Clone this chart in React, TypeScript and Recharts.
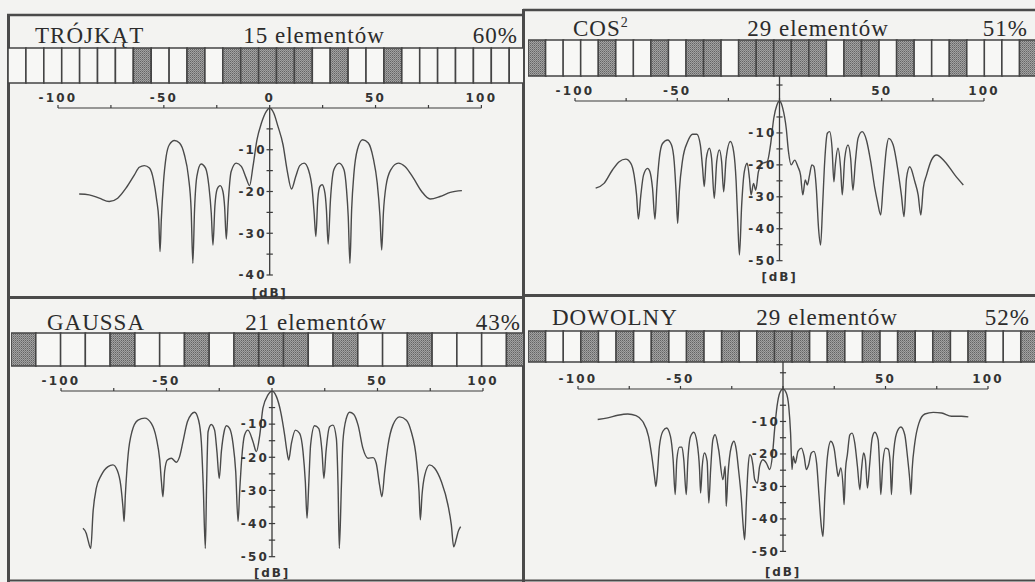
import React from 'react';
import { LineChart, Line, XAxis, YAxis, ReferenceLine, ReferenceDot, BarChart, Bar, Cell } from 'recharts';

// ---------- data: [angle (deg), level (dB)] ----------
const trojkatPattern: [number, number][] = [
  [-90, -20.6], [-85.3, -20.8], [-80.5, -21.6], [-75.8, -22.4], [-71.8, -21.6], [-67.9, -19.2], [-63.9, -16], [-61.6, -14.2],
  [-59.2, -13.8], [-56.8, -14.4], [-54.9, -17.2], [-53.4, -22], [-52.4, -26.8], [-51.8, -34.4], [-51.2, -26.8], [-50.2, -18],
  [-48.9, -11.6], [-47.4, -8.8], [-45, -7.8], [-42.6, -8.4], [-40.3, -11.2], [-38.4, -16.4], [-37.1, -24.4], [-36.3, -37.2],
  [-35.5, -24.4], [-34.4, -16.4], [-32.4, -13.4], [-30.3, -14.4], [-28.7, -18.8], [-27.6, -25.2], [-26.8, -32.8], [-25.9, -23.6],
  [-24.8, -19.4], [-23.4, -18.6], [-22.1, -20], [-21.3, -23.6], [-20.5, -31.4], [-19.6, -22.8], [-18.2, -15.2], [-15.8, -13.2],
  [-13.4, -14], [-11.1, -16.8], [-9.5, -18.6], [-7.9, -14], [-6, -7.6], [-3.9, -3.6], [-1.6, -0.8], [0, 0], [1.9, -1.2],
  [3.9, -4.4], [6.3, -8.8], [8.2, -14.8], [10.3, -19.4], [12.3, -16.4], [14.2, -13.8], [16.3, -13.2], [18.3, -14.8],
  [20.1, -19.6], [21, -25.2], [21.8, -30.8], [22.7, -22], [23.7, -18.8], [24.8, -18.4], [26.1, -20.4], [26.8, -24.4],
  [27.6, -32.6], [28.7, -22], [30.3, -14.8], [32.8, -13.2], [35.1, -14.8], [36.3, -19.6], [37.1, -26], [37.9, -37.2],
  [38.7, -24.4], [39.8, -15.6], [41.4, -10], [43.9, -7.6], [46.6, -8.4], [48.9, -12], [50.8, -18], [52.1, -26], [52.9, -34],
  [53.7, -25.2], [54.9, -18.8], [57.2, -14.8], [60.8, -13.2], [63.9, -14], [67.9, -16.8], [71.8, -20], [75.8, -21.8],
  [80.5, -21.2], [85.3, -20.2], [90.8, -19.8],
];

const cos2Pattern: [number, number][] = [
  [-89.9, -27.3], [-85.8, -25.8], [-81.7, -21.6], [-78.4, -19], [-75.2, -18.2], [-72.7, -19.5], [-71.1, -23.2], [-69.9, -29.4],
  [-69, -37], [-67.8, -29.4], [-66.5, -23.2], [-64.5, -21.1], [-63.4, -22.1], [-62.1, -27.3], [-60.9, -37], [-60, -27.3],
  [-58.8, -18], [-57.2, -13.3], [-54.7, -12.2], [-52.8, -13.8], [-51.5, -19], [-50.5, -29.4], [-49.8, -38.3], [-49, -28.4],
  [-47.4, -18.5], [-44.9, -12.7], [-42.5, -10.4], [-40.4, -10.4], [-38.7, -13.8], [-37.6, -21.1], [-36.8, -26.8], [-35.8, -18],
  [-34.3, -14.8], [-33.2, -18], [-31.9, -30.5], [-30.7, -19], [-29.4, -15.3], [-28.3, -19], [-27.3, -28.4], [-26.1, -18],
  [-24, -12.7], [-22.4, -15.9], [-21.2, -25.3], [-20.4, -37.8], [-19.6, -48.2], [-18.5, -32.6], [-17.2, -22.1], [-15.8, -19.5],
  [-14.7, -24.2], [-13.9, -29.4], [-12.7, -25.8], [-11.6, -27.9], [-10.3, -22.1], [-8.2, -19.5], [-6, -19], [-4.4, -13.8],
  [-2.8, -5.4], [-1.3, -1.3], [0, 0], [1.6, -2.3], [3.3, -8.6], [4.4, -15.9], [5.7, -20], [7.4, -18.5], [9, -20.6],
  [10.3, -23.2], [11.4, -29.4], [12.6, -24.7], [13.6, -26.3], [14.7, -23.2], [15.8, -20], [16.8, -20.5], [18, -27.3],
  [19.1, -39.9], [20.1, -45.1], [21.1, -32.6], [22.1, -19], [23.4, -10.1], [24.5, -9.6], [25.7, -14.8], [26.6, -25.3],
  [27.3, -20], [28.6, -14.8], [29.9, -21.1], [30.7, -29.4], [31.9, -18], [33.5, -13.8], [34.8, -18], [35.9, -27.9],
  [37.1, -19], [38.4, -11.7], [40.4, -9.6], [42.5, -12.2], [44.6, -19], [46.6, -27.3], [47.9, -31.5], [49.5, -35.7],
  [50.7, -26.3], [52.3, -14.8], [53.4, -11.7], [55.6, -13.8], [58, -22.1], [59.6, -29.4], [60.9, -36.2], [62.1, -24.2],
  [63.7, -20.6], [66.2, -25.3], [67.8, -29.4], [69.1, -35.7], [70.3, -27.3], [71.9, -23.2], [74.3, -18.5], [76.8, -16.9],
  [80.9, -19], [85.8, -23.2], [89.9, -26.3],
];

const gaussPattern: [number, number][] = [
  [-89.6, -41.4], [-88, -43], [-87.2, -45], [-85.9, -47.5], [-84.8, -36.4], [-83.3, -29.4], [-80.9, -25.4], [-77.7, -22.8],
  [-75.4, -22.3], [-73.3, -24], [-71.7, -28.4], [-70.6, -35.4], [-70.1, -39.4], [-69.5, -31.4], [-68.2, -19.3], [-66.4, -12.3],
  [-63.5, -8.8], [-60.3, -8.2], [-57.2, -9.8], [-54.8, -14.3], [-53.2, -20.8], [-52.4, -27.4], [-51.7, -31.9], [-50.9, -24.3],
  [-49.6, -20.8], [-47.7, -20.3], [-45.3, -21.5], [-43.8, -19.8], [-42.2, -15.3], [-40.1, -9.3], [-38.2, -7], [-36.7, -6.4],
  [-34.8, -8.8], [-33.5, -15.3], [-32.6, -28.4], [-31.6, -47.5], [-31, -28.4], [-30.3, -12.3], [-28.8, -10.1], [-27.2, -11.8],
  [-26.1, -18.3], [-25, -26.4], [-24, -18.3], [-22.7, -12.3], [-21.6, -10.5], [-20.1, -11.3], [-18.5, -15.8], [-17.2, -24.3],
  [-16.1, -39.4], [-15.3, -30], [-14.3, -20], [-13, -13.3], [-11.4, -11.8], [-9, -15.3], [-7.4, -18.3], [-5.8, -13.3],
  [-4.3, -5.2], [-1.9, -1.2], [0, 0], [2.1, -1.7], [4.1, -6.2], [6, -13.3], [7.1, -18.3], [7.9, -20.8], [9.2, -15.8],
  [11.1, -11.8], [13.1, -12.8], [14.7, -18.3], [15.8, -27.4], [16.6, -38.4], [17.4, -28.4], [18.3, -16.3], [20.2, -10.5],
  [22.1, -11.3], [23.7, -18.3], [24.6, -26.4], [25.6, -18.3], [27.3, -10.8], [28.9, -10.3], [30.5, -14.3], [31.3, -28.4],
  [31.9, -47.5], [32.9, -28.4], [33.6, -15.3], [35.2, -8.3], [36.8, -6.4], [38.7, -7], [40.8, -10.3], [43.1, -17.3],
  [45.5, -20.3], [47.9, -20.1], [49.4, -21.8], [51, -28.4], [52.1, -31.9], [53.4, -24.3], [55, -16.3], [57.3, -10.3],
  [60.5, -7.8], [63.7, -8.8], [66, -12.3], [68.4, -20.3], [69.7, -30.4], [70.3, -38.9], [71.1, -31.4], [72.4, -25.4],
  [74.7, -22.3], [77.1, -23.3], [80.3, -27.4], [83.4, -34.4], [85, -40.4], [86.1, -47], [87.4, -44.5], [88.2, -42.5],
  [89.4, -40.9],
];

const dowolnyPattern: [number, number][] = [
  [-90.4, -9.4], [-85.5, -8.9], [-80.6, -8.1], [-75.7, -7.7], [-71.7, -8.2], [-68.4, -10], [-65.6, -14.6], [-64, -20.7],
  [-62.7, -26.9], [-62, -30], [-61.4, -26.9], [-60.3, -17.7], [-58.6, -13], [-56.8, -12], [-54.9, -14.6], [-53.6, -21.8],
  [-52.6, -32.5], [-51.8, -21.8], [-50.5, -17.9], [-49.3, -17.9], [-48.4, -21.8], [-47.2, -32.5], [-46.4, -21.8], [-45.1, -14.6],
  [-43.5, -13.3], [-41.9, -16.6], [-40.7, -24.8], [-40.2, -32], [-39.4, -23.8], [-38.3, -19.7], [-37, -22.3], [-36.2, -35.1],
  [-35.3, -24.8], [-34.2, -15.6], [-33.1, -14.1], [-31.4, -18.7], [-29.3, -27.9], [-28.2, -23.8], [-27.7, -36.1], [-26.9, -26.9],
  [-25.2, -17.7], [-23.9, -16.1], [-22.8, -18.7], [-21.7, -24.8], [-20.4, -33.1], [-19.4, -42.3], [-18.7, -46.4], [-17.9, -35.1],
  [-17.1, -24.8], [-16.3, -20.2], [-15.5, -20.7], [-14.7, -23.3], [-13.8, -27.9], [-12.5, -29], [-11.4, -23.8], [-9.8, -21.8],
  [-8.1, -22.8], [-6.5, -24.8], [-5.2, -20.7], [-4.1, -12.5], [-2.9, -5.3], [-1.6, -1.2], [0, 0], [1.6, -1.2], [2.8, -5.3],
  [3.7, -13.6], [4.4, -24.8], [5, -20.7], [6, -22.8], [7.3, -19.2], [9, -18.2], [10.3, -20.7], [11.4, -24.8], [12.5, -23.3],
  [13.8, -19.7], [15.1, -19.2], [16.4, -22.8], [17.6, -33.1], [18.7, -42.3], [19.5, -45.4], [20.4, -33.1], [21.7, -20.7],
  [23.3, -16.1], [24.9, -18.2], [26.1, -23.8], [26.9, -26.9], [28.2, -24.3], [29.3, -30], [29.8, -35.6], [30.5, -24.8],
  [31.4, -20.2], [32.6, -14.1], [33.7, -13.6], [35, -16.6], [36.3, -23.8], [37.5, -31], [38.3, -24.8], [39.3, -19.7],
  [40.2, -21.8], [41.2, -30.5], [42.2, -23.8], [43.5, -15.1], [44.8, -13.3], [46.4, -15.6], [47.2, -24.8], [47.7, -32.5],
  [48.7, -22.8], [50, -18.2], [51.3, -18.5], [52.3, -22.8], [52.9, -32.5], [53.7, -21.8], [55.4, -13.6], [57.5, -11.7],
  [59.4, -14.1], [60.7, -20.7], [61.9, -28.4], [62.4, -32.5], [63, -24.8], [64.3, -16.6], [66.3, -10.5], [69.2, -7.7],
  [73.3, -7.2], [77.4, -7.4], [82.2, -8.4], [87.1, -8.4], [90.4, -8.6],
];

// array element strips (1 = shaded element)
const trojkatCells = [0, 0, 0, 0, 0, 0, 0, 1, 0, 0, 1, 0, 1, 1, 1, 1, 1, 0, 1, 0, 0, 1, 0, 0, 0, 0, 0, 0, 0];
const cos2Cells = [1, 0, 0, 0, 1, 0, 0, 1, 0, 1, 1, 0, 1, 1, 1, 1, 1, 0, 1, 1, 0, 1, 0, 0, 1, 0, 0, 0, 1];
const gaussCells = [1, 0, 0, 0, 1, 0, 0, 1, 0, 1, 1, 1, 0, 1, 0, 0, 1, 0, 0, 0, 1];
const dowolnyCells = [1, 0, 0, 1, 0, 1, 0, 1, 0, 1, 0, 1, 0, 1, 1, 1, 0, 1, 0, 1, 0, 1, 0, 1, 0, 1, 0, 0, 1];

// titles
const panelNames = ['TRÓJKĄT', 'COS', 'GAUSSA', 'DOWOLNY'];
const elementCounts = ['15 elementów', '29 elementów', '21 elementów', '29 elementów'];
const fillPercents = ['60%', '51%', '43%', '52%'];

const angleTicks = [-100, -75, -50, -25, 0, 25, 50, 75, 100];
const dbLabels40 = [-10, -20, -30, -40];
const dbLabels50 = [-10, -20, -30, -40, -50];

// ---------- styles ----------
const INK = '#3a3a3a';
const CURVE = '#4a4a4a';
const BG = '#f3f3f1';
const pixFont = { fontFamily: "'DejaVu Sans', sans-serif", fontWeight: 700, fontSize: 12, letterSpacing: 2.2, fill: '#333' };

type Geo = {
  pl: number; pr: number; pt: number; pb: number;
  base: number; nameX: number; midX: number; pctX: number;
  stripTop: number; stripH: number; stripX: number; cw: number;
  x0: number; x1: number; y0: number; yb: number; yMin: number;
  ext: number; showZero: boolean; dbOff: number;
};

const geos: Geo[] = [
  { pl: 7, pr: 523, pt: 14, pb: 297, base: 43, nameX: 35, midX: 314, pctX: 518, stripTop: 48, stripH: 35, stripX: 8.3, cw: 17.9,
    x0: 58.3, x1: 481.7, y0: 107.5, yb: 274.5, yMin: -40, ext: 0, showZero: true, dbOff: 13 },
  { pl: 523, pr: 1035, pt: 9, pb: 295, base: 36, nameX: 573, midX: 818, pctX: 1028, stripTop: 40, stripH: 36, stripX: 527.5, cw: 17.55,
    x0: 575, x1: 984, y0: 101, yb: 260.7, yMin: -50, ext: 7.8, showZero: false, dbOff: 12 },
  { pl: 7, pr: 523, pt: 297, pb: 582, base: 330, nameX: 47, midX: 316, pctX: 521, stripTop: 333, stripH: 33, stripX: 11.3, cw: 24.77,
    x0: 61, x1: 483, y0: 391, yb: 556.7, yMin: -50, ext: 0, showZero: true, dbOff: 12 },
  { pl: 523, pr: 1035, pt: 295, pb: 582, base: 325, nameX: 552, midX: 827, pctX: 1030, stripTop: 331, stripH: 31, stripX: 528, cw: 17.6,
    x0: 578.3, x1: 988.3, y0: 389.3, yb: 551.7, yMin: -50, ext: 8.4, showZero: false, dbOff: 16 },
];

function Strip({ g, cells }: { g: Geo; cells: number[] }) {
  const data = cells.map((v, i) => ({ i, v: 1, dark: v }));
  const w = cells.length * g.cw;
  return (
    <div style={{ position: 'absolute', left: g.pl, top: g.stripTop - 1, width: g.pr - g.pl, height: g.stripH + 2, overflow: 'hidden' }}>
      <div style={{ position: 'absolute', left: g.stripX - g.pl, top: 0 }}>
        <BarChart width={w} height={g.stripH + 2} data={data} margin={{ top: 1, right: 0, bottom: 1, left: 0 }} barCategoryGap={0} barGap={0}>
          <XAxis dataKey="i" hide />
          <YAxis hide domain={[0, 1]} />
          <Bar dataKey="v" isAnimationActive={false} stroke="#444" strokeWidth={1.6}>
            {data.map((d) => (
              <Cell key={d.i} fill={d.dark ? 'url(#halftone)' : '#f7f7f5'} />
            ))}
          </Bar>
        </BarChart>
      </div>
    </div>
  );
}

function Plot({ g, pts, labels }: { g: Geo; pts: [number, number][]; labels: number[] }) {
  const padL = 40, padR = 30, axisH = 30, padB = 34;
  const width = g.x1 - g.x0 + padL + padR;
  const height = axisH + (g.yb - g.y0) + padB;
  const data = pts.map(([a, d]) => ({ a, d }));
  const ticks: number[] = [];
  for (let v = -5; v >= g.yMin; v -= 5) ticks.push(v);
  if (g.ext > 0) ticks.push(5);
  return (
    <div style={{ position: 'absolute', left: g.x0 - padL, top: g.y0 - axisH }}>
      <LineChart width={width} height={height} data={data} margin={{ top: 0, left: padL, right: padR, bottom: padB }}>
        <XAxis
          dataKey="a" type="number" orientation="top" domain={[-100, 100]} allowDataOverflow
          ticks={angleTicks} interval={0} height={axisH} tickSize={3} tickMargin={3}
          axisLine={{ stroke: INK, strokeWidth: 1.2 }} tickLine={{ stroke: INK, strokeWidth: 1.2 }}
          tick={pixFont}
          tickFormatter={(v: number) => (v % 50 === 0 && (g.showZero || v !== 0) ? String(v) : '')}
        />
        <YAxis hide type="number" domain={[g.yMin, 0]} allowDataOverflow />
        <ReferenceLine x={0} stroke={INK} strokeWidth={1.3} />
        {g.ext > 0 && (
          <ReferenceLine segment={[{ x: 0, y: 0 }, { x: 0, y: g.ext }]} stroke={INK} strokeWidth={1.3} ifOverflow="visible" />
        )}
        {ticks.map((v) => (
          <ReferenceLine key={'t' + v} segment={[{ x: -1.5, y: v }, { x: 1.5, y: v }]} stroke={INK} strokeWidth={1.2} ifOverflow="visible" />
        ))}
        {labels.map((v) => (
          <ReferenceDot key={'l' + v} x={0} y={v} r={0} stroke="none" fill="none"
            label={{ value: String(v), position: 'left', offset: 3, style: pixFont }} />
        ))}
        <ReferenceDot x={0} y={g.yMin} r={0} stroke="none" fill="none" ifOverflow="visible"
          label={{ value: '[dB]', position: 'bottom', offset: g.dbOff, style: { ...pixFont, letterSpacing: 1.8 } }} />
        <Line dataKey="d" type="monotone" dot={false} stroke={CURVE} strokeWidth={1.4} isAnimationActive={false} />
      </LineChart>
    </div>
  );
}

const serif = "'Liberation Serif', 'Times New Roman', serif";

function Frame() {
  return (
    <svg width={1035} height={582} style={{ position: 'absolute', left: 0, top: 0 }}>
      <defs>
        <pattern id="halftone" width={2} height={2} patternUnits="userSpaceOnUse">
          <rect width={2} height={2} fill="#a2a2a2" />
          <rect x={0} y={0} width={1} height={1} fill="#646464" />
          <rect x={1} y={1} width={1} height={1} fill="#808080" />
        </pattern>
      </defs>
      {/* borders */}
      <line x1={8.5} y1={14} x2={8.5} y2={582} stroke="#4a4a4a" strokeWidth={3} />
      <line x1={7} y1={15} x2={523} y2={15} stroke="#4a4a4a" strokeWidth={2.5} />
      <line x1={523} y1={10} x2={1035} y2={10} stroke="#4a4a4a" strokeWidth={2.5} />
      <line x1={523.5} y1={9} x2={523.5} y2={582} stroke="#4a4a4a" strokeWidth={3} />
      <line x1={7} y1={297.5} x2={523} y2={297.5} stroke="#4a4a4a" strokeWidth={3} />
      <line x1={523} y1={295.5} x2={1035} y2={295.5} stroke="#4a4a4a" strokeWidth={3} />
      <line x1={7} y1={580.5} x2={1035} y2={580.5} stroke="#4a4a4a" strokeWidth={2} />
      {/* titles */}
      {geos.map((g, k) => (
        <g key={k} fontFamily={serif} fontSize={23} fill="#2c2c2c" letterSpacing={1}>
          <text x={g.nameX} y={g.base}>
            {panelNames[k]}
            {k === 1 && <tspan dy={-9} fontSize={14}>2</tspan>}
          </text>
          <text x={g.midX} y={g.base} textAnchor="middle">{elementCounts[k]}</text>
          <text x={g.pctX} y={g.base} textAnchor="end">{fillPercents[k]}</text>
        </g>
      ))}
    </svg>
  );
}

export default function App() {
  const series = [trojkatPattern, cos2Pattern, gaussPattern, dowolnyPattern];
  const strips = [trojkatCells, cos2Cells, gaussCells, dowolnyCells];
  return (
    <div style={{ position: 'absolute', left: 0, top: 0, width: 1035, height: 582, background: BG, overflow: 'hidden' }}>
      <Frame />
      {geos.map((g, k) => (
        <React.Fragment key={k}>
          <Strip g={g} cells={strips[k]} />
          <Plot g={g} pts={series[k]} labels={k === 0 ? dbLabels40 : dbLabels50} />
        </React.Fragment>
      ))}
    </div>
  );
}
